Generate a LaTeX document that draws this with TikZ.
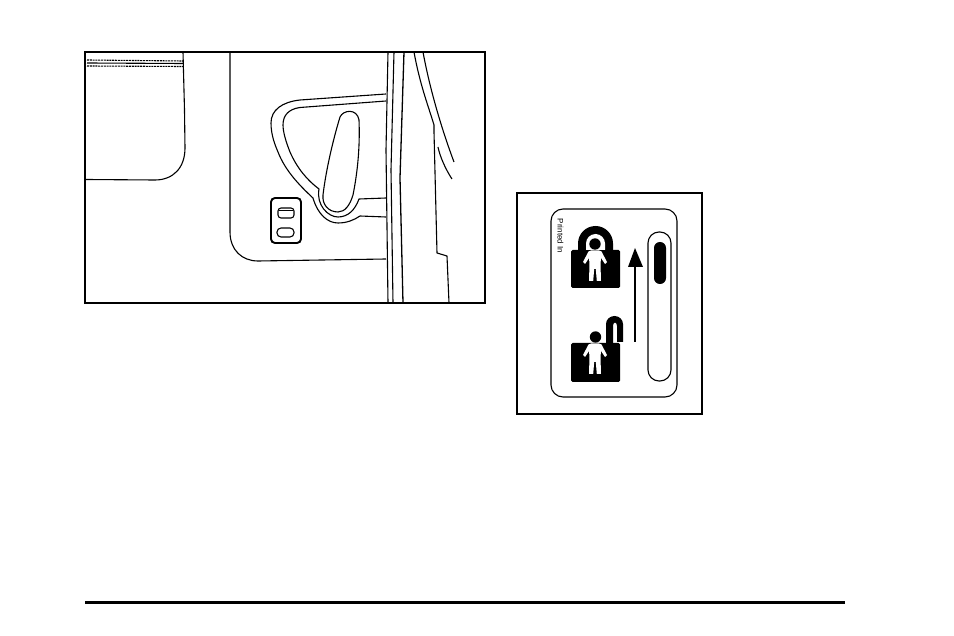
\documentclass[tikz,border=0pt]{standalone}
\usepackage{fontspec}
\setmainfont{Liberation Sans}
\tikzset{
         line/.style={line width=1.1pt,line join=round},
         frame/.style={line width=1.8pt}
        }
\newcommand{\childfigure}[2]{
\begin{scope}[shift={(#1,#2)}]
\fill[white](-4,.5)--(4,.5)--(6.5,1.5)--(12,12)--(10,14)--(6,8)--(5.5,14)--(6,31)--(1.8,31)--(.8,19)--(-.8,19)--(-1.8,31)--(-6,31)--(-5.5,14)--(-6,8)--(-10,14)--(-12,12)--(-6.5,1.5)--cycle;
\end{scope}
}
\begin{document}
\begin{tikzpicture}[x=1pt,y=-1pt]
\useasboundingbox(0,0)rectangle(954,636);
\fill[white](0,0)rectangle(954,636);
% door panel
\draw[line](183,52)--(184.5,110)--(185,148)..controls(185,168)and(173,180)..(155,180)--(86,179.5);
\draw[line,dash pattern=on 2pt off .8pt](87,60)--(183,61);
\draw[line](87,63)--(183,63.5);
\draw[line,dash pattern=on 2pt off .8pt](87,66)--(183,66.5);
\draw[line](230,52)--(230,232)..controls(230,250)and(242,261)..(258,261)--(386,259);
% handle
\draw[line](386,94)--(300,100)..controls(282,102)and(271,110)..(271,123)..controls(271,135)and(275,145)..(278,152)..controls(285,170)and(298,184)..(313,198)..controls(318,215)and(328,223)..(338,223)..controls(347,223)and(354,220)..(360,216)--(386,217);
\draw[line](386,101)--(300,107.5)..controls(289,109)and(283,115)..(283,125)..controls(283,132)and(286,142)..(290,152)..controls(297,168)and(307,180)..(319,189)..controls(316,205)and(328,217)..(338,217)..controls(348,217)and(355,210)..(359,199)--(386,198);
\draw[line](340,117)..controls(343,110)and(357,108)..(359,120)..controls(360,145)and(358,170)..(353,195)..controls(350,205)and(345,212)..(338,212)..controls(328,212)and(322,204)..(323,195)..controls(326,170)and(333,140)..(340,117)--cycle;
% switch
\draw[line width=1.9pt,rounded corners=4pt](271,198)rectangle(301,243);
\draw[line,rounded corners=3pt](278,208)rectangle(294,218);
\draw[line](279,210.5)--(293,210.5);
\draw[line,rounded corners=4pt](277,228)rectangle(294,237);
% pillar
\draw[line](388,52)--(386,150)--(388,303);
\draw[line](394,52)--(391,170)--(393,303);
\draw[line width=1.3pt](404,52)--(400,178)--(403,303);
\draw[line](414,52)..controls(420,85)and(428,105)..(434,125)--(434,132)--(437,253)--(447,256)--(449,303);
\draw[line](423,52)..controls(430,90)and(442,130)..(454,162);
\draw[line](438,147)..controls(440,157)and(446,170)..(452,179);
\draw[frame](85,52)rectangle(485,303);
% label
\draw[line,rounded corners=12pt](551,209)rectangle(677,397);
\node[font=\fontsize{8}{8}\selectfont,rotate=-90](printed)at(560.5,236){Printed In};
% locked
\fill[black](578,252)--(578,243.5)arc[start angle=180,end angle=360,x radius=17.5,y radius=17.5]--(613,252)--cycle;
\fill[white](586,252)--(586,243.5)arc[start angle=180,end angle=360,x radius=9.5,y radius=9.5]--(605,252)--cycle;
\fill[black,rounded corners=1.5pt](571,250)rectangle(620,288);
\fill[white](586,244)rectangle(605,250);
\fill[black](595,244)circle(5.7);
\childfigure{595}{250}
% unlocked
\fill[black,rounded corners=1.5pt](571,343)rectangle(620,382);
\fill[black](606,343)--(606,324)arc[start angle=180,end angle=360,x radius=8.5,y radius=8]--(623,342)--(617,342)--(617,326)arc[start angle=360,end angle=180,x radius=2,y radius=3.5]--(613,343)--cycle;
\fill[black](595.5,337)circle(5.7);
\childfigure{595}{343}
% arrow
\draw[line](635,342)--(635,265);
\fill[black](635,248)--(643,267)--(628,267)--cycle;
% slot
\draw[line,rounded corners=11pt](648,232)rectangle(671,381);
\fill[black,rounded corners=5.9pt](654,242)rectangle(666,284);
\draw[frame](517,193)rectangle(702,414);
% rule
\draw[line width=2.8pt](85,602.5)--(845,602.5);
\end{tikzpicture}
\end{document}
